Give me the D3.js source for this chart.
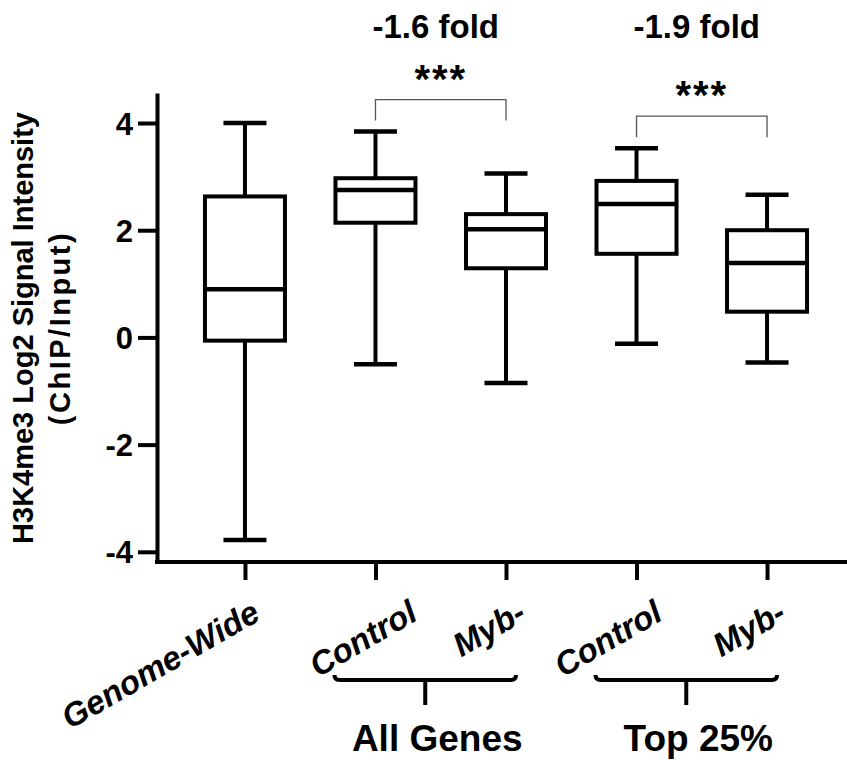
<!DOCTYPE html>
<html>
<head>
<meta charset="utf-8">
<script src="https://cdn.jsdelivr.net/npm/d3@7"></script>
<style>
  body { margin: 0; background: #fff; }
  svg { display: block; }
  text { font-family: "Liberation Sans", Arial, sans-serif; font-weight: bold; fill: #000; }
</style>
</head>
<body>
<svg id="chart" width="847" height="760"></svg>
<script>
// box plot values
var groupIds    = ["gw", "allCtrl", "allMyb", "topCtrl", "topMyb"];
var groupLabels = ["Genome-Wide", "Control", "Myb-", "Control", "Myb-"];
var whiskerLow  = [-3.78, -0.50, -0.85, -0.12, -0.47];
var q1          = [-0.06,  2.14,  1.29,  1.56,  0.48];
var median      = [ 0.90,  2.75,  2.02,  2.49,  1.39];
var q3          = [ 2.63,  2.97,  2.30,  2.92,  2.00];
var whiskerHigh = [ 4.00,  3.84,  3.06,  3.53,  2.66];

var yTicks = [-4, -2, 0, 2, 4];

var comparisons = [
  { from: "allCtrl", to: "allMyb", stars: "***", fold: "-1.6 fold" },
  { from: "topCtrl", to: "topMyb", stars: "***", fold: "-1.9 fold" }
];
var geneSets = [
  { label: "All Genes", first: "allCtrl", last: "allMyb" },
  { label: "Top 25%",   first: "topCtrl", last: "topMyb" }
];

var boxes = groupIds.map(function (id, i) {
  return { id: id, label: groupLabels[i], lo: whiskerLow[i], q1: q1[i],
           med: median[i], q3: q3[i], hi: whiskerHigh[i] };
});

var svg = d3.select("#chart");

var x = d3.scalePoint().domain(groupIds).range([157, 855]).padding(0.674);
var y = d3.scaleLinear().domain([-4.19, 4.56]).range([562, 93]);

// y axis
var yAxis = svg.append("g")
  .attr("transform", "translate(157,0)")
  .call(d3.axisLeft(y).tickValues(yTicks).tickSize(19).tickSizeOuter(0)
        .tickPadding(5).tickFormat(function (d) { return String(d); }));
yAxis.selectAll("path, line").attr("stroke", "#000").attr("stroke-width", 4);
yAxis.selectAll("text").style("font-size", "31px").attr("dy", "0.36em");

// x axis (labels drawn separately, rotated)
var xAxis = svg.append("g")
  .attr("transform", "translate(0,562)")
  .call(d3.axisBottom(x).tickSize(18).tickSizeOuter(0).tickFormat(""));
xAxis.select(".domain").attr("d", "M155,0H855");
xAxis.selectAll("path, line").attr("stroke", "#000").attr("stroke-width", 4);

var labelShift = [17, 44, 22, 28, 21];
svg.append("g").selectAll("text")
  .data(boxes)
  .enter().append("text")
  .attr("transform", function (d, i) {
    return "translate(" + (x(d.id) + labelShift[i]) + ",619) rotate(-30)";
  })
  .attr("text-anchor", "end")
  .style("font-size", "33px")
  .style("font-style", "italic")
  .text(function (d) { return d.label; });

// boxes
var boxW = 80, capW = 43;
var g = svg.append("g").attr("stroke", "#000").attr("fill", "none");
var bx = g.selectAll("g.box").data(boxes).enter().append("g").attr("class", "box");

bx.append("line")
  .attr("x1", function (d) { return x(d.id); }).attr("x2", function (d) { return x(d.id); })
  .attr("y1", function (d) { return y(d.hi); }).attr("y2", function (d) { return y(d.q3); })
  .attr("stroke-width", 4);
bx.append("line")
  .attr("x1", function (d) { return x(d.id); }).attr("x2", function (d) { return x(d.id); })
  .attr("y1", function (d) { return y(d.q1); }).attr("y2", function (d) { return y(d.lo); })
  .attr("stroke-width", 4);
bx.selectAll("line.cap")
  .data(function (d) { return [{ id: d.id, v: d.hi }, { id: d.id, v: d.lo }]; })
  .enter().append("line").attr("class", "cap")
  .attr("x1", function (d) { return x(d.id) - capW / 2; })
  .attr("x2", function (d) { return x(d.id) + capW / 2; })
  .attr("y1", function (d) { return y(d.v); }).attr("y2", function (d) { return y(d.v); })
  .attr("stroke-width", 4.5);
bx.append("rect")
  .attr("x", function (d) { return x(d.id) - boxW / 2; })
  .attr("width", boxW)
  .attr("y", function (d) { return y(d.q3); })
  .attr("height", function (d) { return y(d.q1) - y(d.q3); })
  .attr("fill", "#fff")
  .attr("stroke-width", 4);
bx.append("line")
  .attr("x1", function (d) { return x(d.id) - boxW / 2; })
  .attr("x2", function (d) { return x(d.id) + boxW / 2; })
  .attr("y1", function (d) { return y(d.med); }).attr("y2", function (d) { return y(d.med); })
  .attr("stroke-width", 4.5);

// significance brackets
var byId = {};
boxes.forEach(function (b) { byId[b.id] = b; });

comparisons.forEach(function (c) {
  var x1 = x(c.from), x2 = x(c.to);
  var top = y(Math.max(byId[c.from].hi, byId[c.to].hi)) - 32;
  svg.append("path")
    .attr("d", "M" + x1 + "," + (top + 21) + "V" + top + "H" + x2 + "V" + (top + 21))
    .attr("fill", "none").attr("stroke", "#555").attr("stroke-width", 1.3);
  svg.append("text")
    .attr("x", (x1 + x2) / 2).attr("y", top - 7)
    .attr("text-anchor", "middle")
    .style("font-size", "40px").style("letter-spacing", "2px")
    .text(c.stars);
  svg.append("text")
    .attr("x", (x1 + x2) / 2 - 5).attr("y", 38)
    .attr("text-anchor", "middle")
    .style("font-size", "33px")
    .text(c.fold);
});

// gene-set brackets under the axis
geneSets.forEach(function (s) {
  var x1 = x(s.first) - 41, x2 = x(s.last) + 10, mid = (x1 + x2) / 2;
  svg.append("path")
    .attr("d", "M" + x1 + ",675Q" + x1 + ",680 " + (x1 + 5) + ",680H" + (x2 - 5) +
               "Q" + x2 + ",680 " + x2 + ",675M" + mid + ",680V705")
    .attr("fill", "none").attr("stroke", "#000").attr("stroke-width", 4);
  svg.append("text")
    .attr("x", mid + 12).attr("y", 751)
    .attr("text-anchor", "middle")
    .style("font-size", "37px")
    .text(s.label);
});

// y title
var title = svg.append("text")
  .attr("transform", "translate(0,328) rotate(-90)")
  .attr("text-anchor", "middle")
  .style("font-size", "29px");
title.append("tspan").attr("x", 0).attr("y", 33).text("H3K4me3 Log2 Signal Intensity");
title.append("tspan").attr("x", 0).attr("y", 70).style("letter-spacing", "2.5px").text("(ChIP/Input)");
</script>
</body>
</html>
